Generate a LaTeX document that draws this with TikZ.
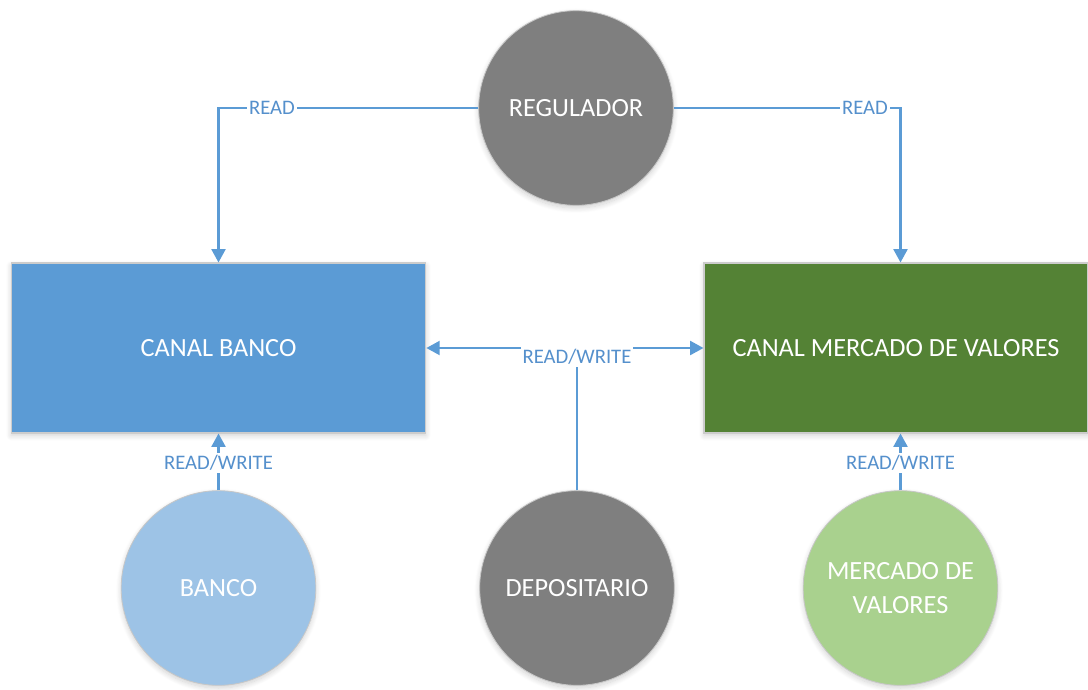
\documentclass[tikz,border=0pt]{standalone}
\usepackage{fontspec}
\setmainfont{Carlito}
\usetikzlibrary{arrows.meta,shadows.blur}
\definecolor{linkblue}{HTML}{5B9BD5}
\definecolor{labelblue}{HTML}{5590CC}
\definecolor{bankblue}{HTML}{5B9BD5}
\definecolor{marketgreen}{HTML}{548235}
\definecolor{nodegray}{HTML}{7F7F7F}
\definecolor{lightblue}{HTML}{9DC3E6}
\definecolor{lightgreen}{HTML}{A9D18E}
\begin{document}
\begin{tikzpicture}[x=0.75pt,y=-0.75pt,
  softshadow/.style={blur shadow={shadow xshift=0pt,shadow yshift=-2pt,
      shadow blur radius=4pt,shadow opacity=18,shadow blur steps=8}},
  entity/.style={circle,minimum size=146pt,inner sep=0pt,draw=black!22,line width=0.6pt,
      text=white,font=\fontsize{19.7}{25}\selectfont,align=center,softshadow},
  channel/.style={rectangle,minimum width=311pt,minimum height=127.5pt,inner sep=0pt,
      draw=black!20,line width=0.8pt,text=white,font=\fontsize{19.7}{25}\selectfont,softshadow},
  link/.style={draw=linkblue,line width=1.6pt},
  linkarrow/.style={link,-{Triangle[width=10.5pt,length=10pt]}},
  tag/.style={fill=white,text=labelblue,inner sep=1.5pt,font=\fontsize{15.5}{18}\selectfont}]
  \useasboundingbox (0,0) rectangle (1088,689);

  % channels
  \node[channel,fill=bankblue] (cb) at (218.5,348) {CANAL BANCO};
  \node[channel,fill=marketgreen,minimum width=288pt] (cm) at (896,348) {CANAL MERCADO DE VALORES};

  % participants
  \node[entity,fill=nodegray] (reg) at (576,108) {REGULADOR};
  \node[entity,fill=lightblue] (ban) at (218.5,588) {BANCO};
  \node[entity,fill=nodegray] (dep) at (577,588) {DEPOSITARIO};
  \node[entity,fill=lightgreen] (mer) at (900.5,588) {MERCADO DE\\VALORES};

  % regulator reads both channels
  \draw[linkarrow] (reg.west) -| (cb.north);
  \draw[linkarrow] (reg.east) -| (mer.north |- cm.north);
  \node[tag] (r1) at (272,108) {READ};
  \node[tag] (r2) at (865,108) {READ};

  % depositary reads and writes both channels
  \draw[linkarrow] (dep.north) |- (cb.east);
  \draw[linkarrow] (dep.north) |- (cm.west);
  \node[tag] (rw0) at (577,357) {READ/WRITE};

  % bank and market write their own channel
  \draw[linkarrow] (ban.north) -- (cb.south);
  \draw[linkarrow] (mer.north) -- (mer.north |- cm.south);
  \node[tag] (rw1) at (218.5,463) {READ/WRITE};
  \node[tag] (rw2) at (900.5,463) {READ/WRITE};
\end{tikzpicture}
\end{document}
